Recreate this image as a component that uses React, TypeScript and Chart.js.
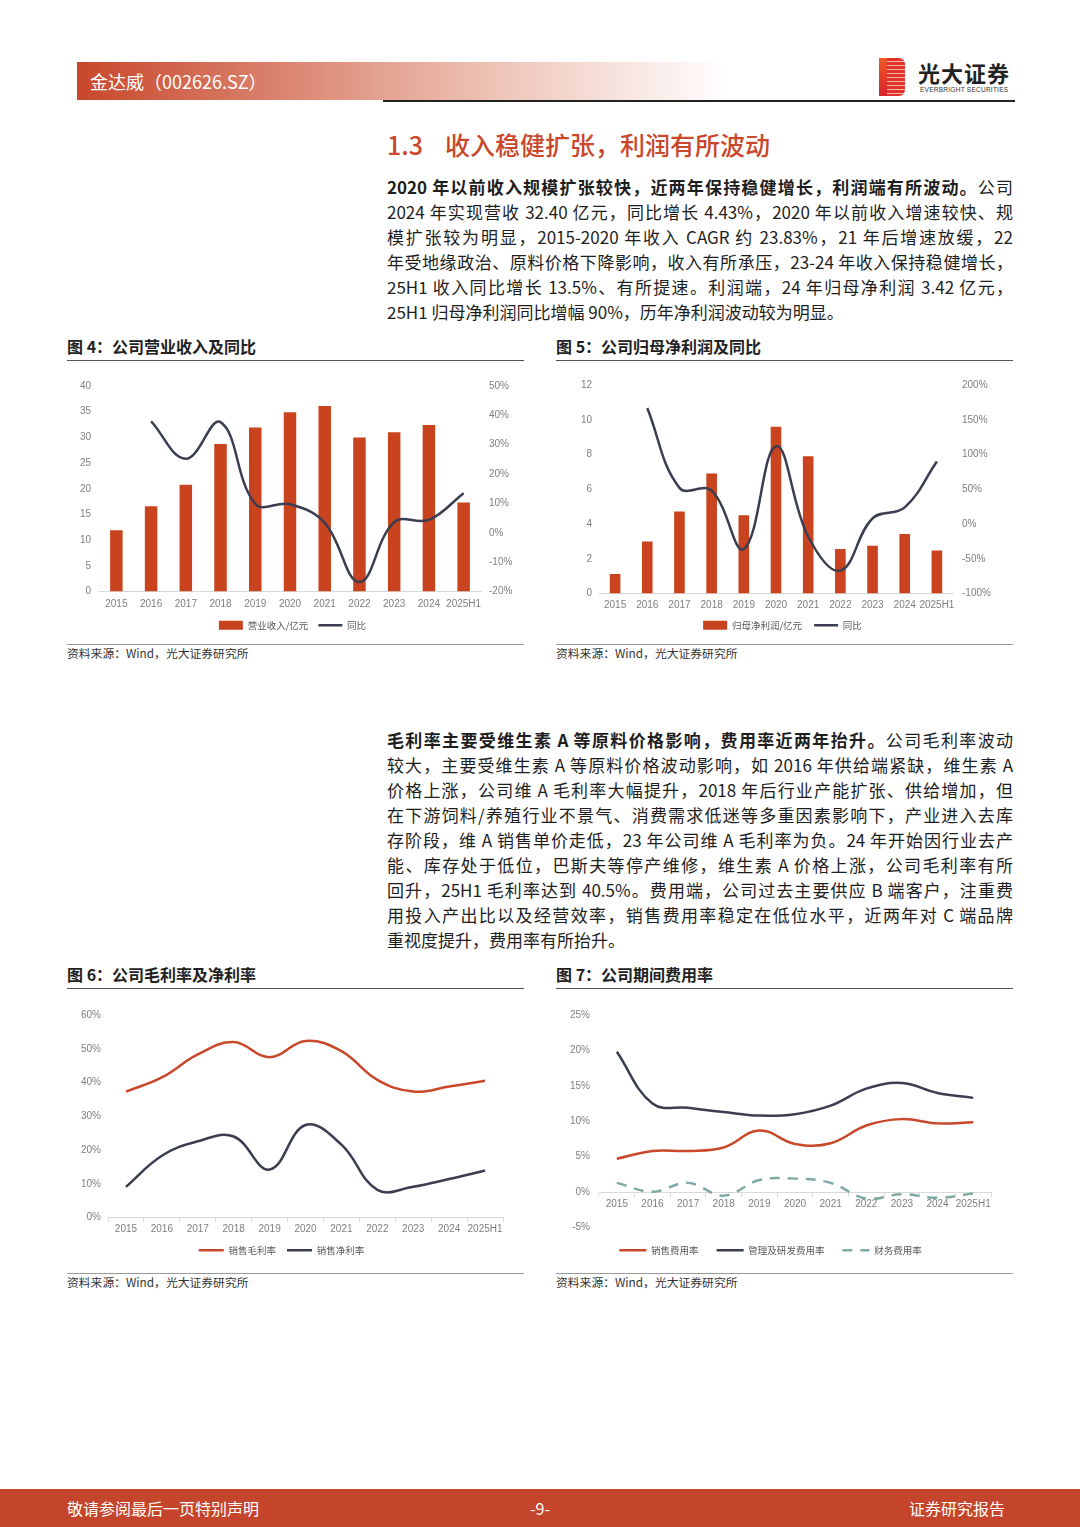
import React, { useEffect, useRef } from 'react';
import { Chart, registerables } from 'chart.js';

Chart.register(...registerables);

// ---------- data ----------
const years = ['2015', '2016', '2017', '2018', '2019', '2020', '2021', '2022', '2023', '2024', '2025H1'];

const revenue = [11.9, 16.6, 20.8, 28.7, 31.9, 34.9, 36.1, 30.0, 31.0, 32.4, 17.3];
const revenueYoY = [null, 38.0, 25.2, 37.7, 9.9, 9.7, 3.4, -16.8, 3.6, 4.4, 13.5];

const netProfit = [1.12, 2.99, 4.72, 6.9, 4.5, 9.6, 7.9, 2.56, 2.75, 3.42, 2.47];
const netProfitYoY = [null, 167, 52, 48, -36, 112, -18, -67, 8, 24, 90];

const grossMargin = [37.3, 41.5, 48.3, 52.0, 47.5, 52.3, 49.3, 40.8, 37.3, 38.8, 40.5];
const netMargin = [9.1, 18.3, 22.6, 24.0, 14.2, 27.4, 21.6, 8.2, 9.1, 11.4, 13.9];

const sellingRate = [4.7, 5.8, 5.8, 6.3, 8.7, 6.8, 6.9, 9.4, 10.3, 9.7, 9.85];
const adminRdRate = [19.8, 12.5, 11.9, 11.3, 10.8, 11.0, 12.2, 14.6, 15.4, 14.0, 13.3];
const financeRate = [1.3, 0.05, 1.3, -0.5, 1.7, 1.9, 1.3, -0.9, -0.3, -0.8, -0.2];

const para1: [string, string][] = [
  ['2020 年以前收入规模扩张较快，近两年保持稳健增长，利润端有所波动。', '公司'],
  ['', '2024 年实现营收 32.40 亿元，同比增长 4.43%，2020 年以前收入增速较快、规'],
  ['', '模扩张较为明显，2015-2020 年收入 CAGR 约 23.83%，21 年后增速放缓，22'],
  ['', '年受地缘政治、原料价格下降影响，收入有所承压，23-24 年收入保持稳健增长，'],
  ['', '25H1 收入同比增长 13.5%、有所提速。利润端，24 年归母净利润 3.42 亿元，'],
  ['', '25H1 归母净利润同比增幅 90%，历年净利润波动较为明显。'],
];

const para2: [string, string][] = [
  ['毛利率主要受维生素 A 等原料价格影响，费用率近两年抬升。', '公司毛利率波动'],
  ['', '较大，主要受维生素 A 等原料价格波动影响，如 2016 年供给端紧缺，维生素 A'],
  ['', '价格上涨，公司维 A 毛利率大幅提升，2018 年后行业产能扩张、供给增加，但'],
  ['', '在下游饲料/养殖行业不景气、消费需求低迷等多重因素影响下，产业进入去库'],
  ['', '存阶段，维 A 销售单价走低，23 年公司维 A 毛利率为负。24 年开始因行业去产'],
  ['', '能、库存处于低位，巴斯夫等停产维修，维生素 A 价格上涨，公司毛利率有所'],
  ['', '回升，25H1 毛利率达到 40.5%。费用端，公司过去主要供应 B 端客户，注重费'],
  ['', '用投入产出比以及经营效率，销售费用率稳定在低位水平，近两年对 C 端品牌'],
  ['', '重视度提升，费用率有所抬升。'],
];

// ---------- styles ----------
const RED = '#c9431f';
const LINE_RED = '#c9482b';
const DARK = '#3b3e50';
const TEAL = '#7fa9a3';
const TICK_COLOR = '#7f7f7f';
const AXIS_COLOR = '#d9d9d9';
const CJK = '"Noto Sans CJK SC", "Noto Sans", sans-serif';
const TICK_FONT = { family: '"Liberation Sans", Arial, sans-serif', size: 10 };

const legendOpts = (padding: number, boxW: number) => ({
  position: 'bottom' as const,
  labels: {
    usePointStyle: true,
    pointStyleWidth: boxW,
    boxHeight: 9,
    padding,
    color: '#595959',
    font: { family: CJK, size: 9.5 },
    sort: (a: any, b: any) => a.datasetIndex - b.datasetIndex,
    generateLabels: (chart: any) => {
      const items = (Chart.defaults.plugins.legend.labels as any).generateLabels(chart);
      return items.map((it: any) => {
        const ds = chart.data.datasets[it.datasetIndex];
        it.pointStyle = ds.pointStyle;
        if (ds.pointStyle === 'line') {
          it.lineWidth = ds.borderWidth;
          it.strokeStyle = ds.borderColor;
          it.lineDash = ds.borderDash || [];
        } else {
          it.lineWidth = 0;
        }
        return it;
      });
    },
  },
});

const fixW = (w: number) => (s: any) => { s.width = w; };
const fixH = (h: number) => (s: any) => { s.height = h; };

function barLineConfig(
  barLabel: string, barData: number[], lineData: (number | null)[],
  left: { min: number; max: number; step: number; w: number; pad: number },
  right: { min: number; max: number; step: number; w: number; pad: number },
  barPct: number, top: number, legendPad: number, xh: number, xpad: number,
) {
  return {
    type: 'bar',
    data: {
      labels: years,
      datasets: [
        { type: 'bar', label: barLabel, data: barData, backgroundColor: RED, yAxisID: 'y', barPercentage: barPct, categoryPercentage: 1, pointStyle: 'rect', order: 2 },
        { type: 'line', label: '同比', data: lineData, borderColor: DARK, borderWidth: 2.5, pointRadius: 0, tension: 0.4, yAxisID: 'y1', pointStyle: 'line', order: 1, spanGaps: true },
      ],
    },
    options: {
      responsive: false,
      animation: false,
      layout: { padding: { top, left: 0, right: 0, bottom: 0 } },
      plugins: { legend: legendOpts(legendPad, 24), tooltip: { enabled: false } },
      scales: {
        x: { grid: { display: false, drawTicks: false }, border: { color: AXIS_COLOR }, ticks: { color: TICK_COLOR, font: TICK_FONT, padding: xpad, maxRotation: 0, autoSkip: false }, afterFit: fixH(xh) },
        y: { position: 'left', min: left.min, max: left.max, ticks: { color: TICK_COLOR, font: TICK_FONT, stepSize: left.step, padding: left.pad }, grid: { display: false, drawTicks: false }, border: { display: false }, afterFit: fixW(left.w) },
        y1: { position: 'right', min: right.min, max: right.max, ticks: { color: TICK_COLOR, font: TICK_FONT, stepSize: right.step, padding: right.pad, callback: (v: any) => v + '%' }, grid: { display: false, drawTicks: false }, border: { display: false }, afterFit: fixW(right.w) },
      },
    },
  };
}

function chart1() {
  return barLineConfig('营业收入/亿元', revenue, revenueYoY,
    { min: 0, max: 40, step: 5, w: 39, pad: 8 }, { min: -20, max: 50, step: 10, w: 44, pad: 8 },
    0.36, 16, 10, 19, 7);
}
function chart2() {
  return barLineConfig('归母净利润/亿元', netProfit, netProfitYoY,
    { min: 0, max: 12, step: 2, w: 49, pad: 7 }, { min: -100, max: 200, step: 50, w: 62, pad: 9 },
    0.33, 15, 12, 15, 6);
}

function chart3() {
  const line = (label: string, data: number[], color: string) => ({
    label, data, borderColor: color, borderWidth: 2.5, pointRadius: 0, tension: 0.4, pointStyle: 'line',
  });
  return {
    type: 'line',
    data: { labels: years, datasets: [line('销售毛利率', grossMargin, LINE_RED), line('销售净利率', netMargin, DARK)] },
    options: {
      responsive: false,
      animation: false,
      layout: { padding: { top: 15, left: 0, right: 22, bottom: 0 } },
      plugins: { legend: legendOpts(11, 25), tooltip: { enabled: false } },
      scales: {
        x: { offset: true, grid: { display: true, offset: true, drawOnChartArea: false, drawTicks: true, tickLength: 4, color: AXIS_COLOR }, border: { color: AXIS_COLOR }, ticks: { color: TICK_COLOR, font: TICK_FONT, padding: 2, maxRotation: 0, autoSkip: false }, afterFit: fixH(17) },
        y: { min: 0, max: 60, ticks: { color: TICK_COLOR, font: TICK_FONT, stepSize: 10, padding: 7, callback: (v: any) => v + '%' }, grid: { display: false, drawTicks: false }, border: { display: false }, afterFit: fixW(48) },
      },
    },
  };
}

function chart4() {
  const line = (label: string, data: number[], color: string, dash?: number[]) => ({
    label, data, borderColor: color, borderWidth: 2.5, pointRadius: 0, tension: 0.4, pointStyle: 'line', borderDash: dash || [],
  });
  return {
    type: 'line',
    data: {
      labels: years,
      datasets: [
        line('销售费用率', sellingRate, LINE_RED),
        line('管理及研发费用率', adminRdRate, DARK),
        line('财务费用率', financeRate, TEAL, [10, 8]),
      ],
    },
    options: {
      responsive: false,
      animation: false,
      layout: { padding: { top: 15, left: 0, right: 24, bottom: 0 } },
      plugins: { legend: legendOpts(18, 27), tooltip: { enabled: false } },
      scales: {
        x: { position: { y: 0 }, offset: true, grid: { display: true, offset: true, drawOnChartArea: false, drawTicks: true, tickLength: 4, color: AXIS_COLOR }, border: { color: AXIS_COLOR }, ticks: { color: TICK_COLOR, font: TICK_FONT, padding: 2, maxRotation: 0, autoSkip: false } },
        y: { min: -5, max: 25, ticks: { color: TICK_COLOR, font: TICK_FONT, stepSize: 5, padding: 9, callback: (v: any) => v + '%' }, grid: { display: false, drawTicks: false }, border: { display: false }, afterFit: fixW(49) },
      },
    },
  };
}

// ---------- components ----------
function ChartBox({ x, y, w, h, make }: { x: number; y: number; w: number; h: number; make: () => any }) {
  const ref = useRef<HTMLCanvasElement | null>(null);
  useEffect(() => {
    const chart = new Chart(ref.current as HTMLCanvasElement, make() as any);
    return () => chart.destroy();
  }, []);
  return (
    <div style={{ position: 'absolute', left: x, top: y, width: w, height: h }}>
      <canvas ref={ref} width={w} height={h} style={{ width: w, height: h, display: 'block' }} />
    </div>
  );
}

function Para({ lines, top }: { lines: [string, string][]; top: number }) {
  return (
    <>
      {lines.map(([b, n], i) => (
        <div
          key={i}
          style={{
            position: 'absolute', left: 387, top: top + i * 25, width: 626, height: 25, lineHeight: '25px',
            fontSize: 17, color: '#1e1e1e', fontFamily: CJK,
            textAlign: 'justify', textAlignLast: i === lines.length - 1 ? 'left' : 'justify',
          } as any}
        >
          {b ? <span style={{ fontWeight: 700 }}>{b}</span> : null}
          {n}
        </div>
      ))}
    </>
  );
}

function FigTitle({ x, y, text }: { x: number; y: number; text: string }) {
  return (
    <>
      <div style={{ position: 'absolute', left: x, top: y - 11, height: 22, lineHeight: '22px', fontSize: 16, fontWeight: 700, color: '#222', fontFamily: CJK }}>{text}</div>
      <div style={{ position: 'absolute', left: x, top: y + 14, width: 457, height: 1, background: '#555' }} />
    </>
  );
}

function Source({ x, y }: { x: number; y: number }) {
  return (
    <>
      <div style={{ position: 'absolute', left: x, top: y - 8, width: 457, height: 1, background: '#999' }} />
      <div style={{ position: 'absolute', left: x, top: y - 7, height: 16, lineHeight: '16px', fontSize: 11.8, color: '#333', fontFamily: CJK }}>资料来源：Wind，光大证券研究所</div>
    </>
  );
}

export default function App() {
  return (
    <div style={{ position: 'absolute', left: 0, top: 0, width: 1080, height: 1527, background: '#fff', overflow: 'hidden', fontFamily: CJK }}>
      {/* header */}
      <div style={{ position: 'absolute', left: 77, top: 62, width: 650, height: 38, background: 'linear-gradient(to right, #c8472b 0%, #d9816c 30%, #ebbcae 60%, #fff 100%)' }} />
      <div style={{ position: 'absolute', left: 90, top: 68, height: 26, lineHeight: '26px', fontSize: 18, color: '#fff' }}>金达威（002626.SZ）</div>
      <div style={{ position: 'absolute', left: 383, top: 100, width: 632, height: 2, background: '#222' }} />
      {/* logo */}
      <div style={{ position: 'absolute', left: 879, top: 58, width: 26, height: 38, background: 'repeating-linear-gradient(to bottom, #e0322a 0px, #e0322a 3px, #f6b7a6 3px, #f6b7a6 4px)', borderRadius: '0 6px 6px 0' }} />
      <div style={{ position: 'absolute', left: 879, top: 58, width: 8, height: 38, background: 'linear-gradient(to bottom, #f05a28, #d8202a)' }} />
      <div style={{ position: 'absolute', left: 918, top: 58, height: 28, lineHeight: '28px', fontSize: 22, fontWeight: 700, color: '#222', letterSpacing: 1 }}>光大证券</div>
      <div style={{ position: 'absolute', left: 920, top: 85, height: 10, lineHeight: '10px', fontSize: 6.6, color: '#333', fontFamily: '"Liberation Sans", Arial, sans-serif', letterSpacing: 0.2 }}>EVERBRIGHT SECURITIES</div>

      {/* section title */}
      <div style={{ position: 'absolute', left: 387, top: 128, height: 32, lineHeight: '32px', fontSize: 25, color: '#c9472b', fontWeight: 500 }}>
        <span style={{ marginRight: 22 }}>1.3</span>收入稳健扩张，利润有所波动
      </div>

      <Para lines={para1} top={174} />

      <FigTitle x={67} y={346} text="图 4：公司营业收入及同比" />
      <FigTitle x={556} y={346} text="图 5：公司归母净利润及同比" />
      <ChartBox x={60} y={370} w={465} h={270} make={chart1} />
      <ChartBox x={550} y={370} w={465} h={270} make={chart2} />
      <Source x={67} y={652} />
      <Source x={556} y={652} />

      <Para lines={para2} top={727} />

      <FigTitle x={67} y={974} text="图 6：公司毛利率及净利率" />
      <FigTitle x={556} y={974} text="图 7：公司期间费用率" />
      <ChartBox x={60} y={1000} w={465} h={265} make={chart3} />
      <ChartBox x={550} y={1000} w={465} h={265} make={chart4} />
      <Source x={67} y={1281} />
      <Source x={556} y={1281} />

      {/* footer */}
      <div style={{ position: 'absolute', left: 0, top: 1489, width: 1080, height: 38, background: '#c4452b' }} />
      <div style={{ position: 'absolute', left: 67, top: 1496, height: 24, lineHeight: '24px', fontSize: 16, color: '#fff' }}>敬请参阅最后一页特别声明</div>
      <div style={{ position: 'absolute', left: 440, width: 200, textAlign: 'center', top: 1496, height: 24, lineHeight: '24px', fontSize: 16, color: '#fff' }}>-9-</div>
      <div style={{ position: 'absolute', right: 75, top: 1496, height: 24, lineHeight: '24px', fontSize: 16, color: '#fff' }}>证券研究报告</div>
    </div>
  );
}
